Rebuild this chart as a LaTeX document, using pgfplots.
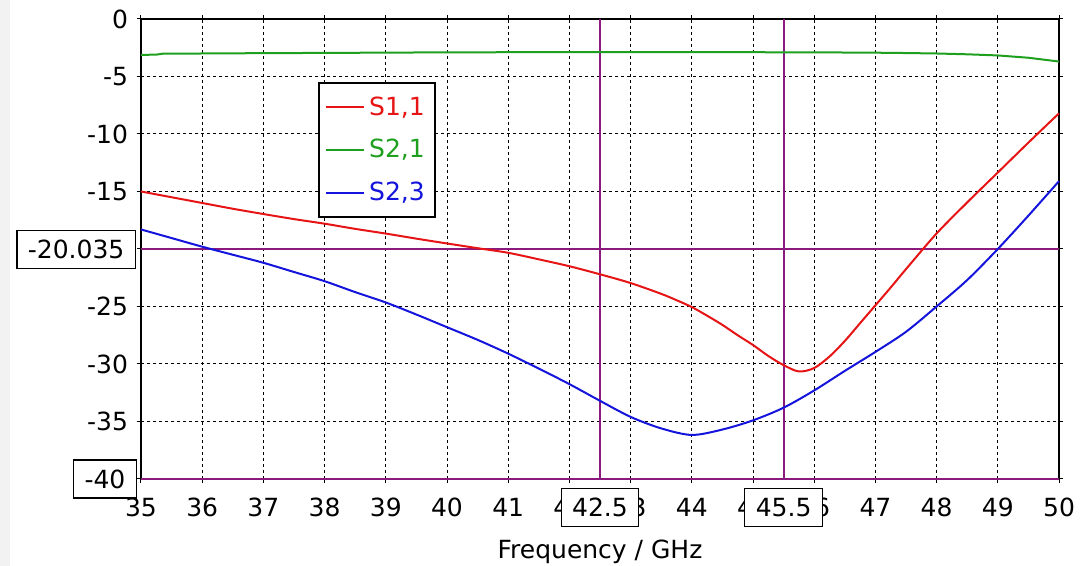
\documentclass[border=0pt]{standalone}
\usepackage{fontspec}
\setmainfont{DejaVu Sans}
\usepackage{pgfplots}
\pgfplotsset{compat=1.18}
\definecolor{sred}{RGB}{230,20,20}
\definecolor{sgreen}{RGB}{30,160,30}
\definecolor{sblue}{RGB}{20,20,220}
\definecolor{mk}{RGB}{140,25,125}
\newcommand{\lf}{\fontsize{12.5}{15}\selectfont}
\begin{document}
\begin{tikzpicture}
\useasboundingbox (-70.5pt,-43.5pt) rectangle (473pt,239.5pt);
\fill[black!5] (-70.5pt,-43.5pt) rectangle (-65.5pt,239.5pt);
\begin{axis}[
  at={(0pt,0pt)}, anchor=south west,
  width=459pt, height=230pt, scale only axis,
  xmin=35, xmax=50, ymin=-40, ymax=0,
  xtick={35,36,...,50},
  xticklabels={35,36,37,38,39,40,41,42,43,44,45,46,47,48,49,50},
  ytick={-40,-35,-30,-25,-20,-15,-10,-5,0},
  yticklabels={,-35,-30,-25,,-15,-10,-5,0},
  tick label style={font=\lf},
  xticklabel style={yshift=-4pt},
  yticklabel style={xshift=-1pt},
  tick align=outside, major tick length=2pt,
  tick style={black, line width=0.5pt},
  axis line style={black, line width=0.7pt},
  grid=major,
  major grid style={black, line width=0.5pt, dash pattern=on 1.5pt off 1.5pt},
  xlabel={Frequency / GHz},
  every axis x label/.style={at={(axis description cs:0.5,0)}, anchor=base, yshift=-40pt, font=\lf},
  clip=false,
  legend style={at={(rel axis cs:0.193,0.8637)}, anchor=north west, draw=black, line width=1pt, fill=white, font=\lf, inner xsep=3pt, inner ysep=5pt, row sep=6.5pt, nodes={inner sep=2pt, font=\lf}},
  legend cell align=left,
  legend image code/.code={\draw[#1, line width=1pt] (0pt,0pt) -- (19pt,0pt);},
]
\addplot[mk, line width=1pt, forget plot] coordinates {(35,-20.035) (50,-20.035)};
\addplot[mk, line width=1.2pt, forget plot] coordinates {(35,-40) (50,-40)};
\addplot[mk, line width=1pt, forget plot] coordinates {(42.5,-40) (42.5,0)};
\addplot[mk, line width=1pt, forget plot] coordinates {(45.5,-40) (45.5,0)};

\addplot[sred, line width=1pt, smooth] coordinates {
(35,-15.0) (35.5,-15.5) (36,-16.0) (36.5,-16.5) (37,-16.96) (37.5,-17.4)
(38,-17.8) (38.5,-18.25) (39,-18.66) (39.5,-19.1) (40,-19.52) (40.5,-19.93)
(41,-20.33) (41.5,-20.9) (42,-21.5) (42.5,-22.2) (43,-22.96) (43.5,-23.9)
(43.75,-24.45) (44,-25.05) (44.25,-25.8) (44.5,-26.6) (44.75,-27.5) (45,-28.35)
(45.25,-29.3) (45.5,-30.1) (45.75,-30.65) (46,-30.35) (46.25,-29.35) (46.5,-28.0)
(46.75,-26.45) (47,-24.9) (47.25,-23.35) (47.5,-21.75) (48,-18.65) (48.5,-15.95)
(49,-13.35) (49.5,-10.75) (50,-8.2)};
\addlegendentry{\textcolor{sred}{S1,1}}

\addplot[sgreen, line width=1pt] coordinates {
(35,-3.12) (35.25,-3.1) (35.35,-3.02) (36,-3.0) (37,-2.97) (38,-2.95)
(40,-2.9) (42,-2.88) (44,-2.88) (46,-2.9) (47,-2.93) (47.5,-2.96)
(48,-3.0) (48.5,-3.07) (49,-3.17) (49.5,-3.37) (50,-3.7)};
\addlegendentry{\textcolor{sgreen}{S2,1}}

\addplot[sblue, line width=1pt, smooth] coordinates {
(35,-18.3) (35.5,-19.05) (36,-19.8) (36.5,-20.5) (37,-21.2) (37.5,-22.0)
(38,-22.8) (38.5,-23.75) (39,-24.65) (39.5,-25.7) (40,-26.8) (40.5,-27.9)
(41,-29.1) (41.5,-30.4) (42,-31.75) (42.5,-33.2) (43,-34.6) (43.5,-35.6)
(44,-36.17) (44.5,-35.7) (45,-34.9) (45.5,-33.8) (46,-32.3) (46.5,-30.6)
(47,-28.95) (47.5,-27.2) (48,-25.0) (48.5,-22.7) (49,-20.0) (49.5,-17.1)
(50,-14.1)};
\addlegendentry{\textcolor{sblue}{S2,3}}

\coordinate (ma) at (axis cs:42.5,-40);
\coordinate (mb) at (axis cs:45.5,-40);
\coordinate (mc) at (axis cs:35,-20.035);
\coordinate (md) at (axis cs:35,-40);
\end{axis}
\tikzset{mbox/.style={draw=black, line width=0.6pt, fill=white, font=\lf, inner xsep=5.5pt, inner ysep=0pt, minimum height=19pt}}
\node[mbox, anchor=north, yshift=-4.35pt] at (ma) {42.5};
\node[mbox, anchor=north, yshift=-4.35pt] at (mb) {45.5};
\node[mbox, anchor=east, xshift=-2.5pt] at (mc) {-20.035};
\node[mbox, anchor=east, xshift=-2pt] at (md) {-40};
\end{tikzpicture}
\end{document}
